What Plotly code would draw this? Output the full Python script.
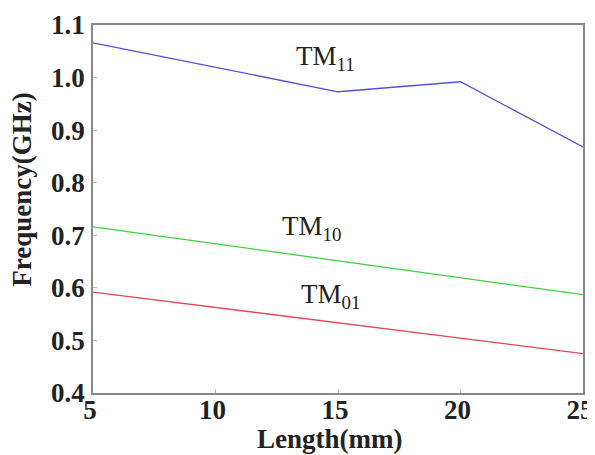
import plotly.graph_objects as go

length = [5, 10, 15, 20, 25]
tm11 = [1.066, 1.020, 0.973, 0.992, 0.868]
tm10 = [0.716, 0.684, 0.651, 0.619, 0.587]
tm01 = [0.592, 0.563, 0.534, 0.504, 0.475]

x_ticks = [5, 10, 15, 20, 25]
y_ticks = [0.4, 0.5, 0.6, 0.7, 0.8, 0.9, 1.0, 1.1]

labels = ["TM<sub>11</sub>", "TM<sub>10</sub>", "TM<sub>01</sub>"]
label_x = [14.5, 13.9, 14.7]
label_y = [1.037, 0.714, 0.585]

fig = go.Figure()
fig.add_trace(go.Scatter(x=length, y=tm11, mode="lines", line=dict(color="#5050d8", width=1.3)))
fig.add_trace(go.Scatter(x=length, y=tm10, mode="lines", line=dict(color="#40d040", width=1.3)))
fig.add_trace(go.Scatter(x=length, y=tm01, mode="lines", line=dict(color="#e04858", width=1.3)))

for t, lx, ly in zip(labels, label_x, label_y):
    fig.add_annotation(x=lx, y=ly, text=t, showarrow=False,
                       font=dict(family="Liberation Serif", size=27, color="#222"))

# axis titles
fig.add_annotation(xref="paper", yref="paper", x=0.482, y=-0.125, yanchor="middle",
                   text="<b>Length(mm)</b>", showarrow=False,
                   font=dict(family="Liberation Serif", size=27, color="#222"))
fig.add_annotation(xref="paper", yref="paper", x=-0.145, y=0.552, xanchor="center",
                   yanchor="middle", textangle=-90,
                   text="<b>Frequency(GHz)</b>", showarrow=False,
                   font=dict(family="Liberation Serif", size=27, color="#222"))

fig.update_layout(
    width=587, height=447,
    margin=dict(l=85, r=12, t=17, b=62),
    paper_bgcolor="white", plot_bgcolor="white",
    showlegend=False,
    font=dict(family="Liberation Serif", color="#222"),
)
fig.update_xaxes(range=[5, 25], tickvals=x_ticks, ticktext=[str(v) for v in x_ticks],
                 showgrid=False, zeroline=False, showline=True, mirror=True, automargin=False,
                 linecolor="#888", linewidth=1.5, ticks="inside", ticklen=4, tickcolor="#bbb",
                 ticklabelstandoff=-8, ticklabelshift=-3, ticklabeloverflow="allow",
                 tickfont=dict(family="Liberation Serif", size=27, color="#222", weight="bold"))
fig.update_yaxes(range=[0.4, 1.1], tickvals=y_ticks, ticktext=[f"{v:.1f}" for v in y_ticks],
                 showgrid=False, zeroline=False, showline=True, mirror=True, automargin=False,
                 linecolor="#888", linewidth=1.5, ticks="inside", ticklen=4, tickcolor="#bbb",
                 ticklabelstandoff=1, ticklabeloverflow="allow",
                 tickfont=dict(family="Liberation Serif", size=27, color="#222", weight="bold"))

fig.write_html("out.html")
